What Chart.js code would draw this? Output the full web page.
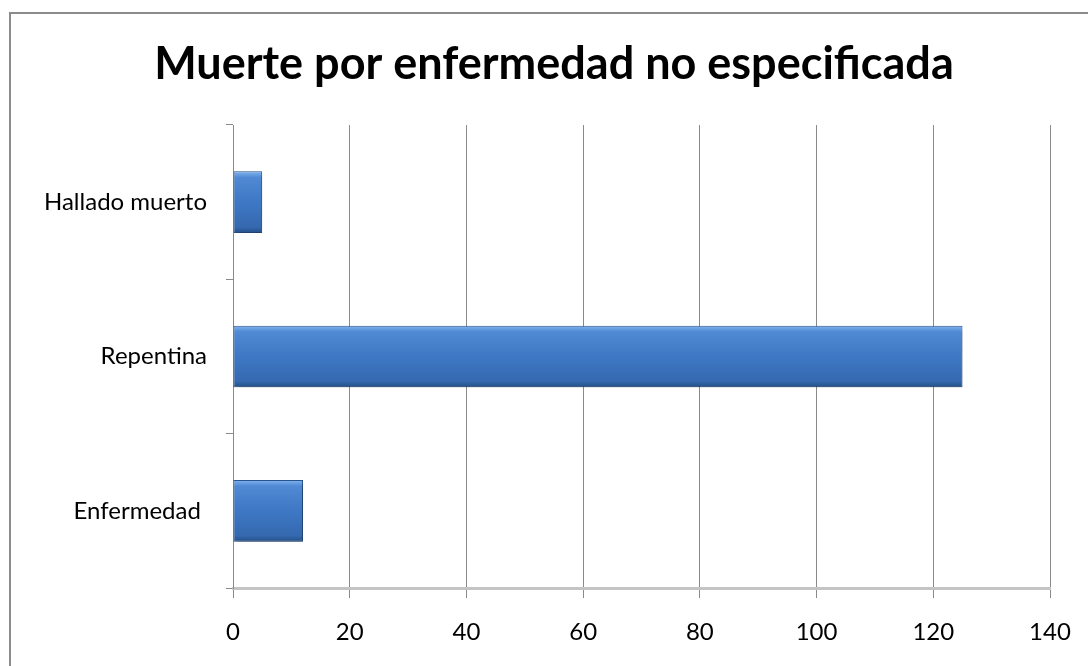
<!DOCTYPE html>
<html>
<head>
<meta charset="utf-8">
<script src="https://cdn.jsdelivr.net/npm/chart.js@4/dist/chart.umd.min.js"></script>
<style>
  html, body { margin: 0; padding: 0; background: #fff; overflow: hidden; }
  #frame { position: absolute; left: 9px; top: 12px; width: 1100px; height: 700px; border: 2px solid #8c8c8c; }
  #wrap { position: absolute; left: 0; top: 0; width: 1088px; height: 666px; }
</style>
</head>
<body>
<div id="frame"></div>
<div id="wrap"><canvas id="chart"></canvas></div>
<script>
const categorias = ['Hallado muerto', 'Repentina', 'Enfermedad '];
const valores = [5, 125, 12];
const titulo = 'Muerte por enfermedad no especificada';
const ejeMin = 0, ejeMax = 140, paso = 20;

const fuente = 'Lato, "Open Sans", sans-serif';

// degradado vertical para cada barra
const colorBarra = (ctx) => {
  const chart = ctx.chart;
  if (!chart.chartArea || !chart.scales.y) return '#3f77c0';
  const yS = chart.scales.y;
  const c = yS.getPixelForValue(ctx.dataIndex);
  const h = (yS.height / categorias.length) * 0.4;
  const g = chart.ctx.createLinearGradient(0, c - h / 2, 0, c + h / 2);
  g.addColorStop(0, '#82b4f0');
  g.addColorStop(0.1, '#5089d4');
  g.addColorStop(0.5, '#3e78c4');
  g.addColorStop(0.9, '#3569b0');
  g.addColorStop(1, '#244f86');
  return g;
};

const sombra = {
  id: 'sombra',
  beforeDatasetDraw(chart) {
    const c = chart.ctx;
    c.save();
    c.shadowColor = 'rgba(0,0,0,0.35)';
    c.shadowBlur = 5;
    c.shadowOffsetX = 2;
    c.shadowOffsetY = 3;
  },
  afterDatasetDraw(chart) {
    chart.ctx.restore();
  }
};

new Chart(document.getElementById('chart'), {
  type: 'bar',
  data: {
    labels: categorias,
    datasets: [{
      data: valores,
      backgroundColor: colorBarra,
      borderColor: '#2a5690',
      borderWidth: 1,
      borderSkipped: false,
      barPercentage: 0.5,
      categoryPercentage: 0.8
    }]
  },
  options: {
    indexAxis: 'y',
    responsive: true,
    maintainAspectRatio: false,
    animation: false,
    layout: { padding: { left: 20, right: 0, top: 0, bottom: 0 } },
    plugins: {
      legend: { display: false },
      tooltip: { enabled: false },
      title: {
        display: true,
        text: titulo,
        color: '#000',
        font: { family: fuente, size: 45, weight: 'bold', lineHeight: 1.2 },
        padding: { top: 37, bottom: 34 }
      }
    },
    scales: {
      x: {
        min: ejeMin,
        max: ejeMax,
        ticks: { stepSize: paso, color: '#000', padding: 20, font: { family: fuente, size: 24 } },
        grid: { color: '#8a8a8a', lineWidth: 1, tickLength: 10 },
        border: { display: true, color: '#c4c4c4', width: 3 },
        afterFit: (s) => { s.height = 78; s.paddingLeft = 0; s.paddingRight = 38; }
      },
      y: {
        ticks: { color: '#000', padding: 19, font: { family: fuente, size: 24 } },
        grid: { offset: true, drawOnChartArea: false, drawTicks: true, tickLength: 7, color: '#8a8a8a' },
        border: { display: true, color: '#8a8a8a', width: 1 },
        afterFit: (s) => { s.width = 213; }
      }
    }
  },
  plugins: [sombra]
});
</script>
</body>
</html>
